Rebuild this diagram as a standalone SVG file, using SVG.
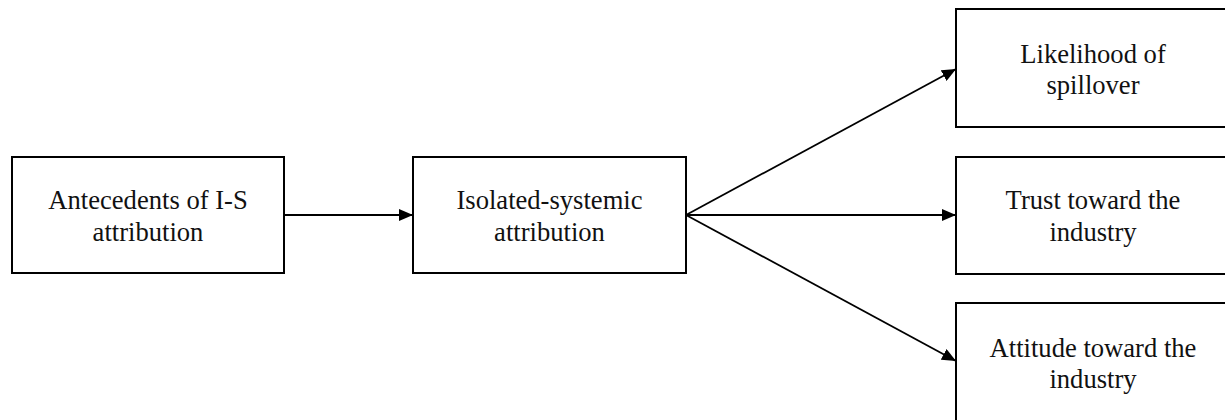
<svg xmlns="http://www.w3.org/2000/svg" width="1225" height="420" viewBox="0 0 1225 420">
<style>
.box{fill:#fff;stroke:#000;stroke-width:2}
.lbl{font-family:"Liberation Serif","Times New Roman",serif;font-size:26.6px;fill:#111;text-anchor:middle}
.con{stroke:#000;stroke-width:1.8;fill:none;marker-end:url(#ah)}
</style>
<defs>
<marker id="ah" viewBox="0 0 14 12" refX="14" refY="6" markerWidth="14" markerHeight="12" markerUnits="userSpaceOnUse" orient="auto">
<path d="M0,0 L14,6 L0,12 Z" fill="#000"/>
</marker>
</defs>
<rect width="1225" height="420" fill="#fff"/>
<g id="connectors">
<line class="con" x1="285" y1="215" x2="413" y2="215"/>
<line class="con" x1="686" y1="215" x2="956" y2="69"/>
<line class="con" x1="686" y1="215" x2="956" y2="215"/>
<line class="con" x1="686" y1="215" x2="956" y2="361"/>
</g>
<g id="antecedents">
<rect class="box" x="12" y="157" width="272" height="116"/>
<text class="lbl" x="148" y="209">Antecedents of I-S</text>
<text class="lbl" x="148" y="241">attribution</text>
</g>
<g id="isolated-systemic">
<rect class="box" x="413" y="157" width="273" height="116"/>
<text class="lbl" x="549.5" y="209">Isolated-systemic</text>
<text class="lbl" x="549.5" y="241">attribution</text>
</g>
<g id="spillover">
<rect class="box" x="956" y="9" width="274" height="118"/>
<text class="lbl" x="1093" y="63">Likelihood of</text>
<text class="lbl" x="1093" y="94">spillover</text>
</g>
<g id="trust">
<rect class="box" x="956" y="157" width="274" height="117"/>
<text class="lbl" x="1093" y="209">Trust toward the</text>
<text class="lbl" x="1093" y="241">industry</text>
</g>
<g id="attitude">
<rect class="box" x="956" y="303" width="274" height="125"/>
<text class="lbl" x="1093" y="357">Attitude toward the</text>
<text class="lbl" x="1093" y="388">industry</text>
</g>
</svg>
